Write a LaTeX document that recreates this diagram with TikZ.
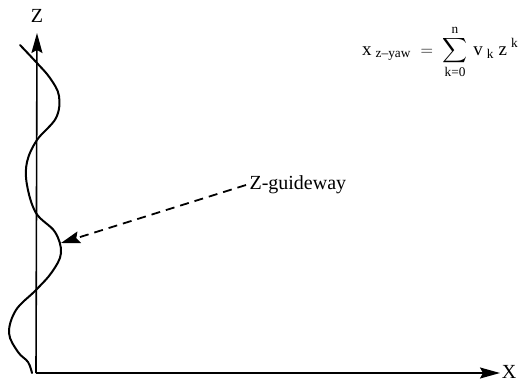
\documentclass[tikz,border=0pt]{standalone}
\usepackage{amsmath}
\usepackage{fontspec}
\setmainfont{Liberation Serif}
\usepackage{tikz}
\usetikzlibrary{arrows.meta, positioning}
\tikzset{
  axis line/.style={
    -{Stealth[length=20pt, width=11pt, inset=3pt]},
    line width=1.6pt
  },
  guide curve/.style={
    line width=2pt,
    line cap=round
  },
  pointer/.style={
    -{Stealth[length=19pt, width=12pt, inset=3pt]},
    dashed, dash pattern=on 9pt off 6pt,
    line width=1.8pt
  },
  axis label/.style={
    font=\fontsize{20}{22}\selectfont,
    inner sep=1pt
  }
}

\begin{document}
\begin{tikzpicture}[x=1pt, y=-1pt]
  \useasboundingbox (0,0) rectangle (521,382);

  %% ---- axes ----
  \coordinate (O) at (36,373);
  \coordinate (Ztip) at (37,33);
  \coordinate (Xtip) at (500,373);
  \draw[axis line] (O) -- (Ztip);
  \draw[axis line] (O) -- (Xtip);
  \node[axis label] (zlab) at (37,16) {Z};
  \node[axis label] (xlab) at (509,372) {X};

  %% ---- guideway curve ----
  \draw[guide curve] plot[smooth, tension=0.6] coordinates {
    (20,45) (36,62) (50,78) (59,96) (56,118) (37,140)
    (27,162) (27,185) (36,213) (55,232) (61,253) (52,272)
    (36,290) (16,310) (9,333) (18,352) (28,362) (32,373)};
  \coordinate (hit) at (61,243);

  %% ---- label + pointer ----
  \node[font=\fontsize{20}{22}\selectfont, anchor=west] (guide) at (246,185) {Z-guideway};
  \draw[pointer] (guide.west) -- (hit);

  %% ---- formula ----
  \node[font=\fontsize{19}{21}\selectfont, anchor=west, inner sep=0pt] (eq) at (362,52)
    {$\displaystyle \text{x}_{\;\text{z--yaw}} \;=\; \sum_{\text{k=0}}^{\text{n}}\,\text{v}_{\;\text{k}}\;\text{z}^{\;\text{k}}$};
\end{tikzpicture}
\end{document}
